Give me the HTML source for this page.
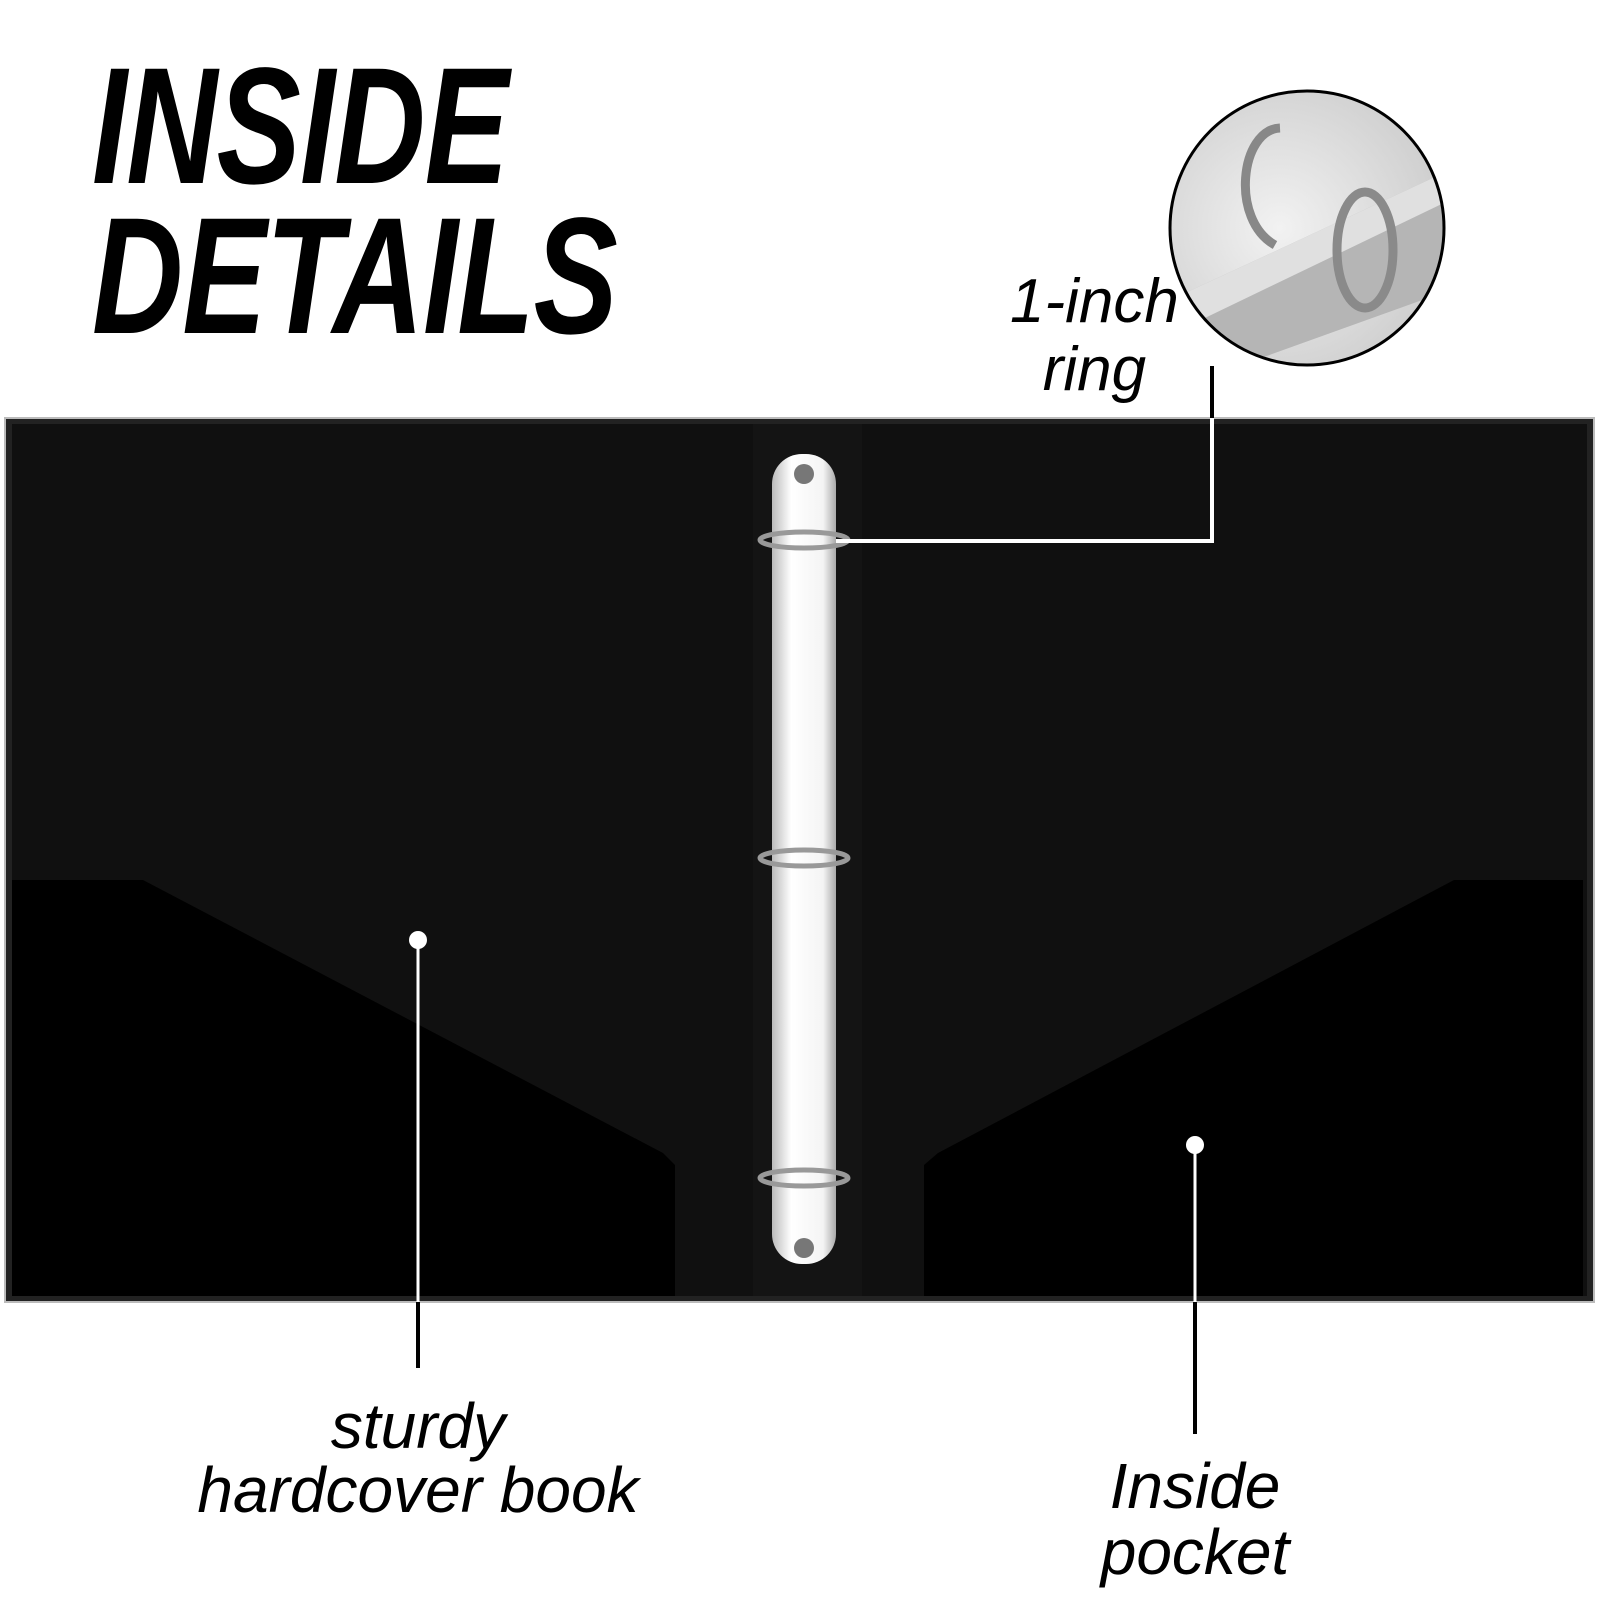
<!DOCTYPE html>
<html><head><style>
body{margin:0;width:1600px;height:1600px;background:#fff;overflow:hidden;position:relative;font-family:"Liberation Sans",sans-serif}
.t{position:absolute;font-style:italic;color:#000;white-space:nowrap}
</style></head><body>
<svg width="1600" height="1600" style="position:absolute;left:0;top:0">
<defs>
<linearGradient id="tube" x1="0" x2="1"><stop offset="0" stop-color="#bbb"/><stop offset=".3" stop-color="#fff"/><stop offset=".8" stop-color="#f4f4f4"/><stop offset="1" stop-color="#aaa"/></linearGradient>
<radialGradient id="cg" cx=".4" cy=".5" r=".6"><stop offset="0" stop-color="#f2f2f2"/><stop offset="1" stop-color="#cfcfcf"/></radialGradient>
<clipPath id="cc"><circle cx="1307" cy="228" r="137"/></clipPath>
</defs>
<rect x="5" y="418" width="1589" height="884" fill="#222" stroke="#bbb" stroke-width="2"/>
<rect x="12" y="424" width="1575" height="872" fill="#101010"/>
<rect x="753" y="424" width="109" height="872" fill="#141414"/>
<polygon points="12,880 143,880 663,1153 675,1165 675,1296 12,1296" fill="#000"/>
<polygon points="1583,880 1454,880 938,1153 924,1165 924,1296 1583,1296" fill="#000"/>
<rect x="772" y="454" width="64" height="810" rx="30" fill="url(#tube)"/>
<g fill="none" stroke="#999" stroke-width="5">
<ellipse cx="804" cy="540" rx="44" ry="8"/><ellipse cx="804" cy="858" rx="44" ry="8"/><ellipse cx="804" cy="1178" rx="44" ry="8"/>
</g>
<circle cx="804" cy="474" r="10" fill="#777"/><circle cx="804" cy="1248" r="10" fill="#777"/>
<circle cx="1307" cy="228" r="137" fill="url(#cg)"/>
<g clip-path="url(#cc)">
<polygon points="1170,300 1450,170 1450,290 1200,380" fill="#b5b5b5"/>
<polygon points="1170,300 1450,170 1450,200 1180,330" fill="#e0e0e0"/>
<path d="M1275,245 C1230,220 1240,130 1280,128" fill="none" stroke="#888" stroke-width="9"/>
<ellipse cx="1365" cy="250" rx="28" ry="58" fill="none" stroke="#8a8a8a" stroke-width="9"/>
</g>
<circle cx="1307" cy="228" r="137" fill="none" stroke="#000" stroke-width="3"/>
<polyline points="1212,366 1212,541 836,541" fill="none" stroke="#fff" stroke-width="4"/>
<polyline points="1212,366 1212,418" fill="none" stroke="#000" stroke-width="4"/>
<circle cx="418" cy="940" r="9" fill="#fff"/>
<line x1="418" y1="940" x2="418" y2="1302" stroke="#fff" stroke-width="3"/>
<line x1="418" y1="1302" x2="418" y2="1368" stroke="#000" stroke-width="4"/>
<circle cx="1195" cy="1145" r="9" fill="#fff"/>
<line x1="1195" y1="1145" x2="1195" y2="1302" stroke="#fff" stroke-width="3"/>
<line x1="1195" y1="1302" x2="1195" y2="1434" stroke="#000" stroke-width="4"/>
</svg>
<div class="t" style="left:92px;top:52px;font-weight:bold;font-size:166px;line-height:150px;transform:scaleX(.76);transform-origin:left top;letter-spacing:-1px">INSIDE<br>DETAILS</div>
<div class="t" style="left:1010px;top:268px;font-size:62px;line-height:68px;text-align:center">1-inch<br>ring</div>
<div class="t" style="left:118px;width:600px;top:1394px;font-size:64px;line-height:64px;text-align:center">sturdy<br>hardcover book</div>
<div class="t" style="left:995px;width:400px;top:1453px;font-size:64px;line-height:66px;text-align:center">Inside<br>pocket</div>
</body></html>
